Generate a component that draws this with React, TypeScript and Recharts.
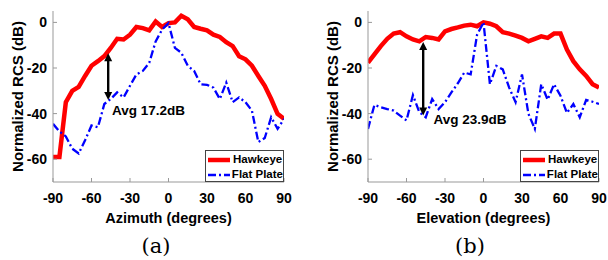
import { LineChart, Line, XAxis, YAxis, Legend, ReferenceLine, ReferenceDot } from "recharts";

const angles = [
  -90, -85, -80, -75, -70, -65, -60, -55, -50, -45, -40, -35, -30, -25, -20, -15, -10, -5, 0,
  5, 10, 15, 20, 25, 30, 35, 40, 45, 50, 55, 60, 65, 70, 75, 80, 85, 90,
];

// azimuth cut (a)
const azHawkeye = [
  -59, -59, -35, -30, -28.3, -23.5, -19, -17, -14.8, -11.2, -7.2, -7.5, -5.4, -2, -2.5, -3.5, 0.4, -2, -0.3,
  0, 2.9, 1.4, -2, -2.8, -3.5, -5.4, -6.4, -8.7, -10.4, -14.8, -16.2, -19, -23.5, -27.8, -33.6, -40.1, -42.3,
];
const azFlat = [
  -44.5, -47.8, -50, -55.4, -57.5, -51.7, -45.2, -46, -35.8, -33.6, -30.7, -32.9, -27.8, -22.8, -21.3, -17.7, -8.3, -3.2, -0.3,
  -11.2, -13.3, -19, -21.3, -27.1, -27.4, -28.6, -33.6, -26.4, -35, -32.9, -35, -38.7, -52.5, -50.7, -41.6, -46.7, -42.3,
];

// elevation cut (b)
const elHawkeye = [
  -17.7, -14, -10.4, -7.2, -4.9, -4.3, -6.1, -7.5, -8.3, -6.4, -6.8, -7.5, -3.9, -2.9, -2.2, -1.4, -1, -1.7, 0,
  -0.6, -1.7, -4.3, -4.9, -5.8, -6.8, -8.3, -7.2, -6.1, -6.8, -4.9, -4.9, -11.9, -17, -20.6, -23.5, -27.1, -28.6,
];
const elFlat = [
  -46.7, -36.2, -37.2, -38, -38.7, -40.9, -43, -31.9, -39.4, -41.6, -33.6, -38, -35, -30.7, -26.7, -22, -22.8, -5.4, 0,
  -27.1, -19.1, -20.6, -28.6, -35, -22.8, -40.1, -46.7, -27.1, -33.9, -27.1, -32.2, -39.7, -35.8, -41.6, -34, -34.8, -35.8,
];

const xTicks = [-90, -60, -30, 0, 30, 60, 90];
const yTicks = [-60, -40, -20, 0];
const seriesNames = ["Hawkeye", "Flat Plate"];

const FONT = "'Liberation Sans', Arial, sans-serif";
const AXIS = "#999";
const RED = "#ff0000";
const BLUE = "#0000ff";
const DASH = "8 3 2 3";

function ArrowShape(props: any) {
  const { x1, y1, x2, y2 } = props;
  const x = (x1 + x2) / 2;
  const top = Math.min(y1, y2);
  const bot = Math.max(y1, y2);
  const h = 8;
  const w = 4;
  return (
    <g>
      <line x1={x} y1={top + h - 1} x2={x} y2={bot - h + 1} stroke="#000" strokeWidth={2.4} />
      <polygon points={`${x},${top} ${x - w},${top + h} ${x + w},${top + h}`} fill="#000" />
      <polygon points={`${x},${bot} ${x - w},${bot - h} ${x + w},${bot - h}`} fill="#000" />
    </g>
  );
}

function LegendBox() {
  const rows = [
    { name: seriesNames[0], color: RED, width: 4.5, dash: undefined },
    { name: seriesNames[1], color: BLUE, width: 2.3, dash: DASH },
  ];
  return (
    <div
      style={{
        width: 79,
        height: 32,
        boxSizing: "border-box",
        border: "1px solid #444",
        background: "#fff",
        fontFamily: FONT,
        fontSize: 11.5,
        fontWeight: 700,
        color: "#000",
        paddingTop: 1,
      }}
    >
      {rows.map((r) => (
        <div key={r.name} style={{ display: "flex", alignItems: "center", height: 15, lineHeight: "15px" }}>
          <svg width={25} height={10} style={{ marginLeft: 2 }}>
            <line x1={0} y1={5} x2={22} y2={5} stroke={r.color} strokeWidth={r.width} strokeDasharray={r.dash} />
          </svg>
          <span style={{ whiteSpace: "nowrap" }}>{r.name}</span>
        </div>
      ))}
    </div>
  );
}

interface PanelProps {
  left: number;
  xLabel: string;
  hawkeye: number[];
  flat: number[];
  arrowX: number;
  arrowTop: number;
  arrowBottom: number;
  noteX: number;
  noteY: number;
  note: string;
}

function Panel({ left, xLabel, hawkeye, flat, arrowX, arrowTop, arrowBottom, noteX, noteY, note }: PanelProps) {
  const data = angles.map((a, i) => ({ angle: a, hawkeye: hawkeye[i], flat: flat[i] }));
  const tickStyle = { fill: "#000", fontSize: 14, fontWeight: 700, fontFamily: FONT };
  return (
    <div style={{ position: "absolute", left, top: 0, width: 300, height: 260 }}>
      <LineChart width={300} height={260} data={data} margin={{ top: 11, right: 16, bottom: 6, left: 0 }}>
        <XAxis
          dataKey="angle"
          type="number"
          domain={[-90, 90]}
          ticks={xTicks}
          allowDataOverflow
          stroke={AXIS}
          tickSize={-4}
          tickMargin={15}
          tick={tickStyle}
          height={72}
          label={{ value: xLabel, position: "center", fill: "#000", fontSize: 14.5, fontWeight: 700, fontFamily: FONT }}
        />
        <XAxis
          xAxisId="top"
          orientation="top"
          dataKey="angle"
          type="number"
          domain={[-90, 90]}
          ticks={xTicks}
          allowDataOverflow
          stroke={AXIS}
          tickSize={-4}
          tick={false}
          height={0}
        />
        <YAxis
          type="number"
          domain={[-70, 5]}
          ticks={yTicks}
          allowDataOverflow
          stroke={AXIS}
          tickSize={-4}
          tickMargin={10}
          tick={tickStyle}
          width={53}
          label={{
            value: "Normalized RCS (dB)",
            angle: -90,
            position: "insideLeft",
            offset: 18,
            style: { textAnchor: "middle" },
            fill: "#000",
            fontSize: 15,
            fontWeight: 700,
            fontFamily: FONT,
          }}
        />
        <YAxis
          yAxisId="right"
          orientation="right"
          type="number"
          domain={[-70, 5]}
          ticks={yTicks}
          allowDataOverflow
          stroke={AXIS}
          tickSize={-4}
          tick={false}
          width={0}
        />
        <Line
          dataKey="hawkeye"
          name={seriesNames[0]}
          type="linear"
          stroke={RED}
          strokeWidth={4.5}
          dot={false}
          isAnimationActive={false}
        />
        <Line
          dataKey="flat"
          name={seriesNames[1]}
          type="linear"
          stroke={BLUE}
          strokeWidth={2.3}
          strokeDasharray={DASH}
          dot={false}
          isAnimationActive={false}
        />
        <ReferenceLine
          segment={[
            { x: arrowX, y: arrowTop },
            { x: arrowX, y: arrowBottom },
          ]}
          shape={ArrowShape}
        />
        <ReferenceDot
          x={noteX}
          y={noteY}
          r={0}
          shape={(p: any) => (
            <text
              x={p.cx}
              y={p.cy}
              dominantBaseline="central"
              fill="#000"
              fontSize={13.5}
              fontWeight={700}
              fontFamily={FONT}
            >
              {note}
            </text>
          )}
        />
        <Legend
          layout="vertical"
          align="center"
          verticalAlign="middle"
          wrapperStyle={{ left: 205, top: 150, width: 79, height: 32 }}
          content={() => <LegendBox />}
        />
      </LineChart>
    </div>
  );
}

export default function App() {
  const caption = {
    position: "absolute" as const,
    top: 232,
    width: 40,
    textAlign: "center" as const,
    fontFamily: "'DejaVu Serif', serif",
    fontSize: 21,
    lineHeight: "28px",
    color: "#000",
  };
  return (
    <div style={{ position: "absolute", left: 0, top: 0, width: 608, height: 260, background: "#fff" }}>
      <Panel
        left={0}
        xLabel="Azimuth (degrees)"
        hawkeye={azHawkeye}
        flat={azFlat}
        arrowX={-47}
        arrowTop={-13.5}
        arrowBottom={-34}
        noteX={-44}
        noteY={-38.7}
        note="Avg 17.2dB"
      />
      <Panel
        left={315}
        xLabel="Elevation (degrees)"
        hawkeye={elHawkeye}
        flat={elFlat}
        arrowX={-47}
        arrowTop={-8.6}
        arrowBottom={-40.8}
        noteX={-39}
        noteY={-42.6}
        note="Avg 23.9dB"
      />
      <div style={{ ...caption, left: 136 }}>(a)</div>
      <div style={{ ...caption, left: 450 }}>(b)</div>
    </div>
  );
}
